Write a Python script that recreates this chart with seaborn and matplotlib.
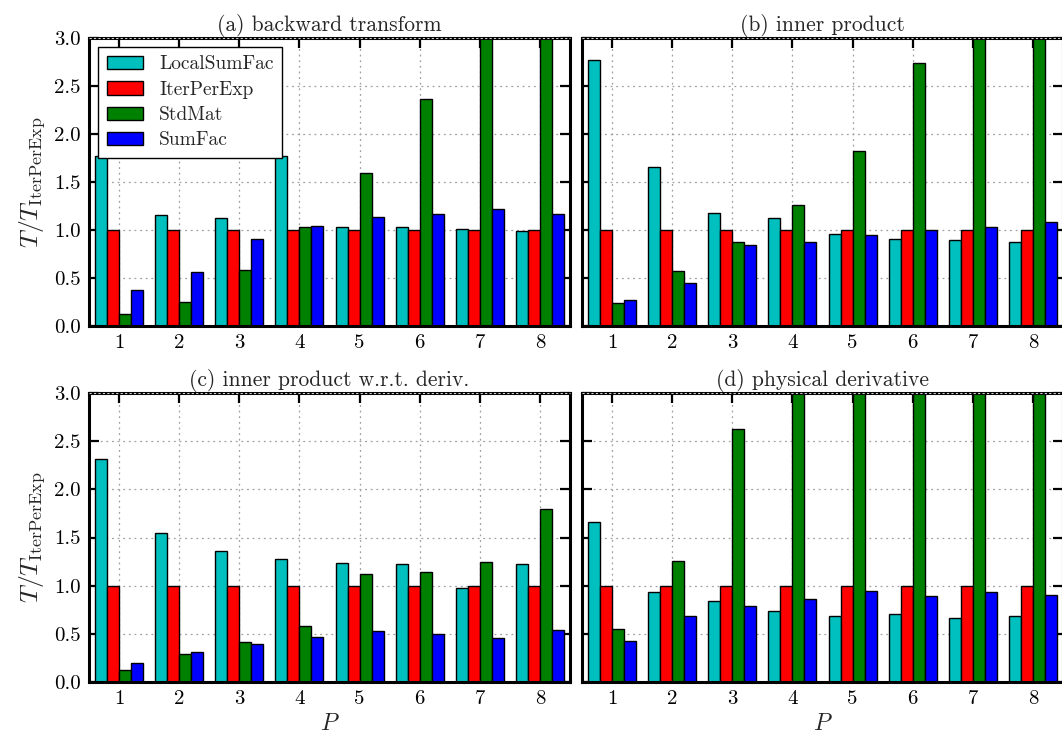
import numpy as np
import pandas as pd
import matplotlib
matplotlib.use("Agg")
import matplotlib.pyplot as plt
import seaborn as sns
from matplotlib.patches import Patch

# ---------------- data ----------------
P = [1, 2, 3, 4, 5, 6, 7, 8]
methods = ["LocalSumFac", "IterPerExp", "StdMat", "SumFac"]
colors = ["#00bfbf", "#ff0000", "#008000", "#0000ff"]
titles = ["(a) backward transform", "(b) inner product",
          "(c) inner product w.r.t. deriv.", "(d) physical derivative"]

# (a) backward transform
a_local = [1.77, 1.16, 1.13, 1.77, 1.03, 1.03, 1.01, 0.99]
a_iter = [1.0, 1.0, 1.0, 1.0, 1.0, 1.0, 1.0, 1.0]
a_std = [0.12, 0.25, 0.58, 1.03, 1.59, 2.36, 3.4, 4.3]
a_sum = [0.38, 0.56, 0.91, 1.04, 1.14, 1.17, 1.22, 1.17]

# (b) inner product
b_local = [2.77, 1.66, 1.18, 1.12, 0.96, 0.91, 0.90, 0.88]
b_iter = [1.0, 1.0, 1.0, 1.0, 1.0, 1.0, 1.0, 1.0]
b_std = [0.24, 0.57, 0.87, 1.26, 1.82, 2.74, 3.6, 4.6]
b_sum = [0.27, 0.45, 0.84, 0.87, 0.95, 1.0, 1.03, 1.08]

# (c) inner product w.r.t. deriv.
c_local = [2.32, 1.55, 1.36, 1.28, 1.24, 1.23, 0.98, 1.23]
c_iter = [1.0, 1.0, 1.0, 1.0, 1.0, 1.0, 1.0, 1.0]
c_std = [0.12, 0.29, 0.42, 0.58, 1.12, 1.14, 1.25, 1.80]
c_sum = [0.20, 0.31, 0.39, 0.47, 0.53, 0.50, 0.46, 0.54]

# (d) physical derivative
d_local = [1.66, 0.93, 0.84, 0.74, 0.69, 0.71, 0.66, 0.68]
d_iter = [1.0, 1.0, 1.0, 1.0, 1.0, 1.0, 1.0, 1.0]
d_std = [0.55, 1.26, 2.63, 3.6, 4.5, 5.4, 6.3, 7.2]
d_sum = [0.43, 0.69, 0.79, 0.86, 0.94, 0.89, 0.93, 0.90]

panels = [
    (a_local, a_iter, a_std, a_sum),
    (b_local, b_iter, b_std, b_sum),
    (c_local, c_iter, c_std, c_sum),
    (d_local, d_iter, d_std, d_sum),
]
yticks = [0.0, 0.5, 1.0, 1.5, 2.0, 2.5, 3.0]

# ---------------- style ----------------
sns.set_style("white")
plt.rcParams["font.family"] = ["cmr10", "DejaVu Serif"]
plt.rcParams["mathtext.fontset"] = "cm"
plt.rcParams["axes.formatter.use_mathtext"] = True
plt.rcParams["axes.unicode_minus"] = False

W, H = 1062, 740
fig = plt.figure(figsize=(W / 100, H / 100), dpi=100)
fig.patch.set_facecolor("white")

rects = [
    [89 / W, 1 - 326 / H, 481 / W, 288 / H],
    [582 / W, 1 - 326 / H, 481 / W, 288 / H],
    [89 / W, 1 - 682 / H, 481 / W, 289 / H],
    [582 / W, 1 - 682 / H, 481 / W, 289 / H],
]

for k, (vals, rect, title) in enumerate(zip(panels, rects, titles)):
    ax = fig.add_axes(rect)
    df = pd.DataFrame({
        "P": np.tile(P, len(methods)),
        "method": np.repeat(methods, len(P)),
        "value": np.concatenate([np.asarray(v, float) for v in vals]),
    })
    sns.barplot(data=df, x="P", y="value", hue="method", hue_order=methods,
                palette=colors, saturation=1, width=0.8, errorbar=None,
                edgecolor="black", linewidth=1.0, legend=False, ax=ax, zorder=2)
    # zero-height spacer bars between groups (as in the original)
    ax.bar(np.arange(len(P)) + 0.5, np.zeros(len(P)), width=0.2,
           color="white", edgecolor="black", linewidth=1.0, zorder=2)

    ax.set_xlim(-0.5, 7.5)
    ax.set_ylim(0, 3.0)
    ax.set_yticks(yticks)
    ax.set_xticks(range(len(P)))
    ax.set_xticklabels([str(p) for p in P])
    if k % 2 == 0:
        ax.set_yticklabels([f"{t:.1f}" for t in yticks])
        ax.set_ylabel(r"$T/T_{\mathrm{IterPerExp}}$", fontsize=18.5, labelpad=5)
    else:
        ax.set_yticklabels([])
        ax.set_ylabel("")
    if k >= 2:
        ax.set_xlabel(r"$P$", fontsize=17, labelpad=3)
    else:
        ax.set_xlabel("")

    ax.set_axisbelow(True)
    ax.grid(True, color="#a0a0a0", linestyle=(0, (1.5, 3)), linewidth=0.9)
    for s in ax.spines.values():
        s.set_visible(True)
        s.set_linewidth(2.2)
        s.set_color("black")
    # grid line at the top drawn over the spine, as in the original
    ax.axhline(3.0, color="#d0d0d0", linestyle=(0, (2, 2)), linewidth=0.8,
               zorder=6, clip_on=False)
    ax.tick_params(axis="both", which="major", direction="in", length=7,
                   width=1.6, top=True, right=True, bottom=True, left=True,
                   labelsize=15, pad=6, colors="black")
    ax.set_title(title, fontsize=15.5, pad=5)

    if k == 0:
        handles = [Patch(facecolor=c, edgecolor="black", linewidth=1.0)
                   for c in colors]
        leg = ax.legend(handles, methods, loc="upper left", fontsize=14,
                        frameon=True, fancybox=False, framealpha=1,
                        edgecolor="black", handlelength=1.9,
                        handleheight=0.68, handletextpad=0.8,
                        labelspacing=0.38, borderpad=0.45,
                        borderaxespad=0.45)
        leg.get_frame().set_linewidth(1.0)
        leg.set_zorder(10)

fig.savefig("out.png", dpi=100, facecolor="white")
